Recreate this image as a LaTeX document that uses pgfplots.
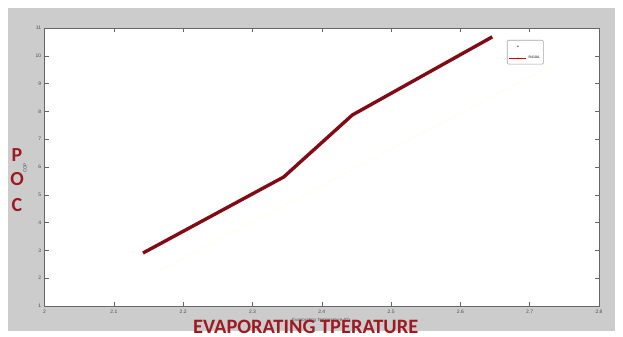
\documentclass[border=0pt]{standalone}
\usepackage{pgfplots}
\pgfplotsset{compat=1.18}
\usepackage{fontspec}
\setmainfont{Liberation Sans}
\newfontfamily\calfont{Carlito}
\definecolor{dred}{HTML}{820A14}
\definecolor{lred}{HTML}{9E1A22}
\definecolor{bggray}{HTML}{CCCCCC}
\begin{document}
\begin{tikzpicture}[x=1bp,y=1bp]
\useasboundingbox (0,0) rectangle (623,336);
\fill[white] (0,0) rectangle (623,336);
\fill[bggray] (8,5) rectangle (615,328);
\begin{axis}[
  at={(44.6bp,30bp)}, anchor=south west,
  width=554.4bp, height=278bp, scale only axis,
  xmin=2, xmax=2.8, ymin=1, ymax=11,
  xtick={2,2.1,...,2.8}, ytick={1,...,11},
  xticklabels={2,2.1,2.2,2.3,2.4,2.5,2.6,2.7,2.8},
  tick align=inside, major tick length=4bp,
  axis line style={draw=gray!80!black, line width=0.8pt},
  every tick/.style={gray!80!black, line width=0.5pt},
  tick label style={font=\fontsize{5}{6}\selectfont, text=gray!60!black},
  /pgf/number format/assume math mode=true,
  axis background/.style={fill=white},
  legend style={at={(0.834,0.957)}, anchor=north west, draw=gray!70, line width=0.6pt,
    font=\fontsize{3.5}{4}\selectfont, inner sep=2pt, row sep=4pt, rounded corners=1pt},
  legend cell align=left,
  clip=false,
]
\addlegendimage{only marks, mark=*, mark size=0.3pt, blue}
\addlegendentry{\phantom{R410A}}
\addlegendimage{red!80!black, line width=0.4pt, mark=*, mark size=0.3pt}
\addlegendentry{R410A}
\addplot[color=white!93!yellow, line width=0.8pt, forget plot] coordinates {
(2.162,2.22) (2.738,9.74)
};
\addplot[color=dred, line width=3.4pt, line join=round, forget plot] coordinates {
(2.142,2.906) (2.345,5.64) (2.444,7.87) (2.646,10.68)
};
\end{axis}
\node[font=\fontsize{4.5}{5}\selectfont, text=gray!60!black] at (321,15.5) {Evaporating Temperature (C)};
\node[font=\fontsize{4.5}{5}\selectfont, text=gray!60!black, rotate=90] at (25,168) {COP};
\node[font=\calfont\bfseries\fontsize{20}{20}\selectfont, text=lred] at (17,181) {P};
\node[font=\calfont\bfseries\fontsize{20}{20}\selectfont, text=lred] at (17,157) {O};
\node[font=\calfont\bfseries\fontsize{20}{20}\selectfont, text=lred] at (17,131) {C};
\node[font=\calfont\bfseries\fontsize{20.5}{20.5}\selectfont, text=lred, anchor=base west, inner sep=0pt] at (193,2.5) {EVAPORATING TPERATURE};
\end{tikzpicture}
\end{document}
